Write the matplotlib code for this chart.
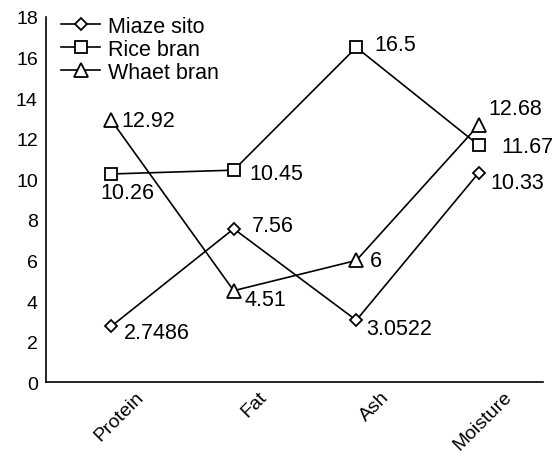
import numpy as np
import matplotlib
matplotlib.use('Agg')
import matplotlib.pyplot as plt
from matplotlib.transforms import ScaledTranslation

plt.rcParams['font.family'] = ['Liberation Sans', 'DejaVu Sans']

# data
categories = ['Protein', 'Fat', 'Ash', 'Moisture']
maize = [2.7486, 7.56, 3.0522, 10.33]
rice = [10.26, 10.45, 16.5, 11.67]
wheat = [12.92, 4.51, 6, 12.68]
maize_lbl = ['2.7486', '7.56', '3.0522', '10.33']
rice_lbl = ['10.26', '10.45', '16.5', '11.67']
wheat_lbl = ['12.92', '4.51', '6', '12.68']

# label offsets in pixels (dx, dy) relative to the marker
maize_off = [(13, -6), (18, 3), (10, -8), (11, -10)]
rice_off = [(-11, -19), (16, -3), (18, 3), (22, -1)]
wheat_off = [(10, 0), (11, -9), (14, 0), (9, 16)]

fig = plt.figure(figsize=(5.56, 4.60), dpi=100)
ax = fig.add_axes([0.083, 0.167, 0.893, 0.794])
x = np.arange(len(categories))

fs = 15.5
mk = dict(color='black', lw=1.2, mfc='white', mec='black', mew=1.3)
ax.plot(x, maize, marker='D', ms=6.5, label='Miaze sito', **mk)
ax.plot(x, rice, marker='s', ms=9, label='Rice bran', **mk)
ax.plot(x, wheat, marker='^', ms=9.5, label='Whaet bran', **mk)

def annotate(vals, labels, offs):
    for xi, v, t, (dx, dy) in zip(x, vals, labels, offs):
        ax.annotate(t, (xi, v), xytext=(dx * 0.72, dy * 0.72), textcoords='offset points',
                    ha='left', va='center', fontsize=fs)

annotate(maize, maize_lbl, maize_off)
annotate(rice, rice_lbl, rice_off)
annotate(wheat, wheat_lbl, wheat_off)

ax.set_xlim(-0.53, 3.52)
ax.set_ylim(0, 18)
ax.set_yticks(np.arange(0, 19, 2))
ax.set_xticks(x)
ax.tick_params(axis='y', length=0, labelsize=14, pad=6)
ax.tick_params(axis='x', length=0, pad=6)
ax.set_xticklabels(categories, rotation=45, ha='right', rotation_mode='anchor', fontsize=14)
# labels sit to the right of the points in the original
for lab in ax.get_xticklabels():
    lab.set_transform(lab.get_transform() + ScaledTranslation(0.24, 0.03, fig.dpi_scale_trans))
for s in ['top', 'right']:
    ax.spines[s].set_visible(False)
for s in ['left', 'bottom']:
    ax.spines[s].set_linewidth(1.2)

ax.legend(loc='upper left', bbox_to_anchor=(0.0, 1.045), frameon=False, fontsize=fs,
          handlelength=1.8, handletextpad=0.35, labelspacing=0.1, borderpad=0.2)

fig.savefig('out.png', dpi=100)
